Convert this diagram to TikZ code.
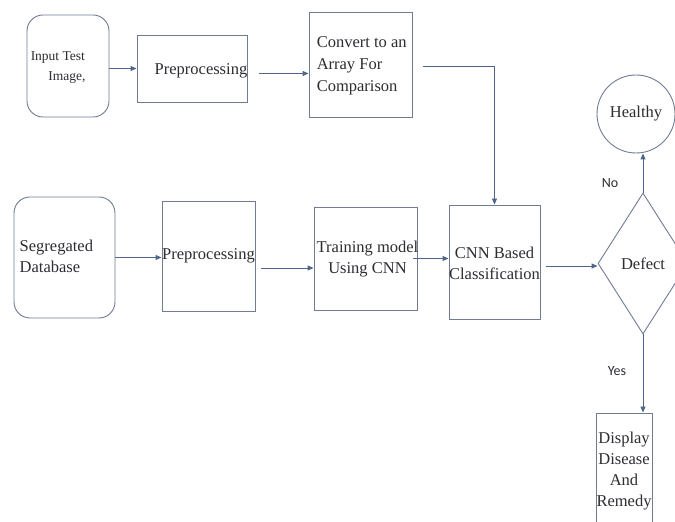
\documentclass[tikz,border=0pt]{standalone}
\usepackage{fontspec}
\setmainfont{Liberation Serif}
\newfontfamily\lblfont{Carlito}
\usetikzlibrary{arrows.meta,shapes.geometric}
\definecolor{boxc}{RGB}{112,124,148}
\definecolor{arrc}{RGB}{78,102,138}
\definecolor{txtc}{RGB}{45,45,50}
\tikzset{
  blk/.style={draw=boxc, line width=0.9pt, inner sep=0pt, text=txtc,
    font=\fontsize{16.5}{21}\selectfont, align=center},
  rbox/.style={blk, rounded corners=16pt},
  lbl/.style={text=txtc, inner sep=0pt, font=\fontsize{16.5}{21}\selectfont},
  arr/.style={draw=arrc, line width=0.9pt, -{Triangle[length=6pt,width=5pt]}},
}
\begin{document}
\begin{tikzpicture}[x=1pt,y=1pt]
\useasboundingbox[fill=white] (0,0) rectangle (675,522);
% top row
\node[rbox, minimum width=82pt, minimum height=102pt] (in) at (68,456) {};
\node[lbl, anchor=west, align=left, font=\fontsize{13.5}{20}\selectfont] (intxt) at ([xshift=4pt,yshift=-2pt]in.west) {Input Test\\\hspace*{1.3em}Image,};
\node[blk, minimum width=110pt, minimum height=67pt] (pre1) at (192,453.5) {};
\node[lbl, anchor=east] (pre1txt) at ([xshift=0pt,yshift=-2pt]pre1.east) {Preprocessing};
\node[blk, minimum width=103pt, minimum height=105pt] (conv) at (360.5,457.5) {};
\node[lbl, anchor=west, align=left, font=\fontsize{16.5}{22}\selectfont] (convtxt) at ([xshift=8pt,yshift=-1pt]conv.west) {Convert to an\\Array For\\Comparison};
\node[blk, circle, minimum size=78pt] (healthy) at (636,408) {Healthy};
% bottom row
\node[rbox, minimum width=101pt, minimum height=121pt] (seg) at (64.5,264.5) {};
\node[lbl, anchor=west, align=left] (segtxt) at ([xshift=6pt,yshift=1pt]seg.west) {Segregated\\Database};
\node[blk, minimum width=93pt, minimum height=110pt] (pre2) at (208.5,266) {Preprocessing};
\node[blk, minimum width=103pt, minimum height=103pt] (train) at (365.5,263.5) {};
\node[lbl, align=center] (traintxt) at ([xshift=2pt,yshift=-1pt]train.center) {Training model\\Using CNN};
\node[blk, minimum width=91pt, minimum height=114pt] (cnn) at (494.5,260) {};
\node[lbl, align=center] (cnntxt) at ([xshift=0pt,yshift=-1pt]cnn.center) {CNN Based\\Classification};
\node[blk, diamond, minimum width=90pt, minimum height=141pt] (defect) at (643,258.5) {Defect};
\node[blk, minimum width=56pt, minimum height=117pt] (disp) at (624,50.5) {};
\node[lbl, align=center, anchor=north] (disptxt) at ([yshift=-19pt]disp.north) {Display\\Disease\\And\\Remedy};
% labels
\node[lbl, font=\lblfont\fontsize{14}{16}\selectfont] (no) at (610,339) {No};
\node[lbl, font=\lblfont\fontsize{14}{16}\selectfont] (yes) at (617,151) {Yes};
% connectors
\draw[arr] (in.east |- pre1.west) -- (pre1.west);
\draw[arr] ([xshift=12pt,yshift=-5pt]pre1.east) -- ([yshift=-5pt]pre1.east -| conv.west);
\draw[arr] ([xshift=11pt,yshift=-1.5pt]conv.east) -| (cnn.north);
\draw[arr] (seg.east) -- (seg.east -| pre2.west);
\draw[arr] ([xshift=6pt,yshift=-12pt]pre2.east) -- ([yshift=-12pt]pre2.east -| train.west);
\draw[arr] ([xshift=-4pt]train.east) -- (train.east -| cnn.west);
\draw[arr] ([xshift=6pt,yshift=-4pt]cnn.east) -- ([yshift=-4pt]cnn.east -| defect.west);
\draw[arr] (defect.north) -- (defect.north |- healthy.south);
\draw[arr] (defect.south) -- (defect.south |- disp.north);
\end{tikzpicture}
\end{document}
